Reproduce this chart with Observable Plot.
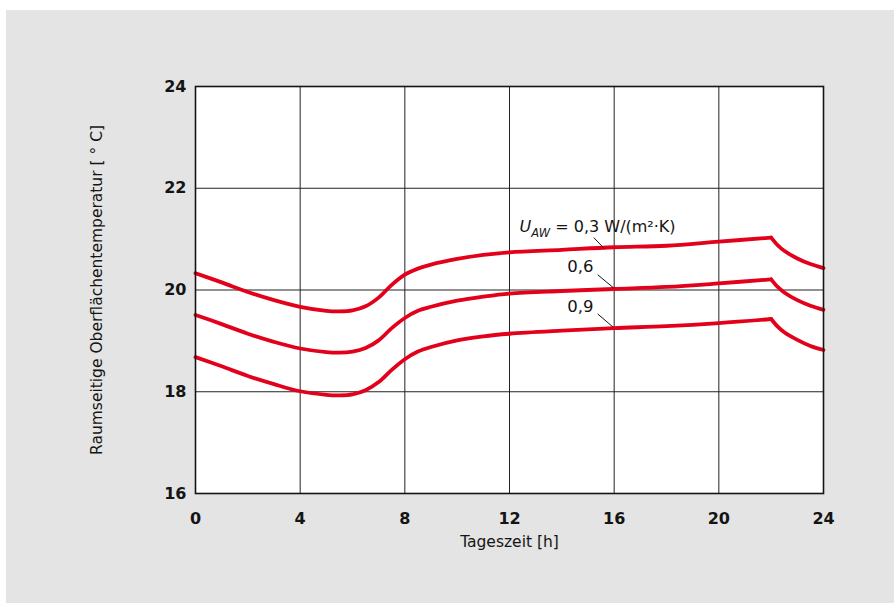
<!DOCTYPE html>
<html>
<head>
<meta charset="utf-8">
<script src="https://cdn.jsdelivr.net/npm/d3@7"></script>
<script src="https://cdn.jsdelivr.net/npm/@observablehq/plot@0.6"></script>
<style>
  html, body { margin: 0; padding: 0; background: #ffffff; }
  #panel { position: absolute; left: 6px; top: 10px; width: 888px; height: 593px; background: #e3e4e3; }
  #chart { position: absolute; left: 0; top: 0; }
</style>
</head>
<body>
<div id="panel"></div>
<div id="chart"></div>
<script>
// Hours of the day (x values)
const hours = [0, 1, 2, 3, 4, 5, 5.5, 6, 6.5, 7, 7.5, 8, 8.5, 9, 10, 11, 12, 14, 16, 18, 20, 22, 22.25, 22.5, 23, 23.5, 24];
// Surface temperature [°C] per U_AW value
const u03 = [20.33, 20.15, 19.96, 19.80, 19.67, 19.59, 19.58, 19.60, 19.68, 19.85, 20.10, 20.30, 20.42, 20.50, 20.61, 20.69, 20.74, 20.79, 20.84, 20.87, 20.95, 21.03, 20.88, 20.77, 20.62, 20.51, 20.43];
const u06 = [19.51, 19.33, 19.14, 18.98, 18.85, 18.78, 18.77, 18.79, 18.86, 19.01, 19.25, 19.45, 19.59, 19.67, 19.79, 19.87, 19.93, 19.98, 20.02, 20.06, 20.13, 20.21, 20.06, 19.95, 19.80, 19.69, 19.61];
const u09 = [18.68, 18.50, 18.31, 18.15, 18.01, 17.94, 17.93, 17.95, 18.03, 18.19, 18.43, 18.64, 18.79, 18.88, 19.01, 19.09, 19.14, 19.20, 19.25, 19.29, 19.35, 19.43, 19.28, 19.17, 19.02, 18.90, 18.82];
const seriesNames = ["0,3", "0,6", "0,9"];
const kinkHour = 22;

// Axis ticks and titles
const xTicks = [0, 4, 8, 12, 16, 20, 24];
const yTicks = [16, 18, 20, 22, 24];
const xGrid = [4, 8, 12, 16, 20];
const yGrid = [18, 20, 22];
const xTitle = "Tageszeit [h]";
const yTitle = "Raumseitige Oberflächentemperatur [ ° C]";

// Curve labels and leader lines
const labelTexts = ["U_AW = 0,3 W/(m²·K)", "0,6", "0,9"];
const labelX = [12.38, 14.71, 14.71];
const labelY = [21.25, 20.46, 19.68];
const labelAnchor = ["start", "middle", "middle"];
const leaderX1 = [15.22, 15.37, 15.37];
const leaderY1 = [21.03, 20.30, 19.53];
const leaderX2 = [15.63, 15.98, 15.96];
const leaderY2 = [20.81, 20.04, 19.27];

const red = "#e2001a";
const ink = "#141414";
const font = "'DejaVu Sans', sans-serif";

const allSeries = [u03, u06, u09];
const rows = [];
allSeries.forEach((vals, s) => {
  hours.forEach((h, i) => {
    if (h <= kinkHour) rows.push({h, t: vals[i], z: seriesNames[s] + "-a"});
    if (h >= kinkHour) rows.push({h, t: vals[i], z: seriesNames[s] + "-b"});
  });
});
const labels = labelTexts.map((text, i) => ({text, x: labelX[i], y: labelY[i], anchor: labelAnchor[i]}));
const leaders = leaderX1.map((x1, i) => ({x1, y1: leaderY1[i], x2: leaderX2[i], y2: leaderY2[i]}));

const chart = Plot.plot({
  width: 894,
  height: 603,
  marginLeft: 195,
  marginRight: 71,
  marginTop: 86,
  marginBottom: 110,
  style: {background: "transparent", fontFamily: font, color: ink},
  x: {domain: [0, 24]},
  y: {domain: [16, 24]},
  marks: [
    Plot.frame({fill: "white"}),
    Plot.ruleX(xGrid, {stroke: "#222", strokeWidth: 1}),
    Plot.ruleY(yGrid, {stroke: "#222", strokeWidth: 1}),
    Plot.line(rows, {x: "h", y: "t", z: "z", stroke: red, strokeWidth: 3.8, curve: "catmull-rom", strokeLinejoin: "round"}),
    Plot.link(leaders, {x1: "x1", y1: "y1", x2: "x2", y2: "y2", stroke: ink, strokeWidth: 1}),
    Plot.text(labels.filter(d => d.anchor === "start"), {x: "x", y: "y", text: "text", textAnchor: "start", fontSize: 16, fill: ink, className: "ulabel"}),
    Plot.text(labels.filter(d => d.anchor === "middle"), {x: "x", y: "y", text: "text", textAnchor: "middle", fontSize: 16.5, fill: ink}),
    Plot.frame({stroke: ink, strokeWidth: 1.6}),
    Plot.axisX(xTicks, {tickSize: 0, tickPadding: 19, fontSize: 16, fontWeight: "bold", tickFormat: d => String(d), label: null}),
    Plot.axisY(yTicks, {tickSize: 0, tickPadding: 9, fontSize: 16, fontWeight: "bold", tickFormat: d => String(d), label: null}),
    Plot.text([xTitle], {text: d => d, frameAnchor: "bottom", dy: 53, fontSize: 15.5, fill: ink}),
    Plot.text([yTitle], {text: d => d, frameAnchor: "left", textAnchor: "middle", dx: -98, rotate: -90, fontSize: 15.5, fill: ink})
  ]
});

document.getElementById("chart").appendChild(chart);

// Subscript for U_AW
d3.select(chart).selectAll(".ulabel text").each(function() {
  const t = d3.select(this);
  const full = t.text();
  const rest = full.split("U_AW")[1];
  t.text("");
  t.append("tspan").attr("font-style", "italic").text("U");
  t.append("tspan").attr("font-style", "italic").attr("font-size", 11.5).attr("dy", 5).text("AW");
  t.append("tspan").attr("dy", -5).text(" " + rest.trim());
});
</script>
</body>
</html>
